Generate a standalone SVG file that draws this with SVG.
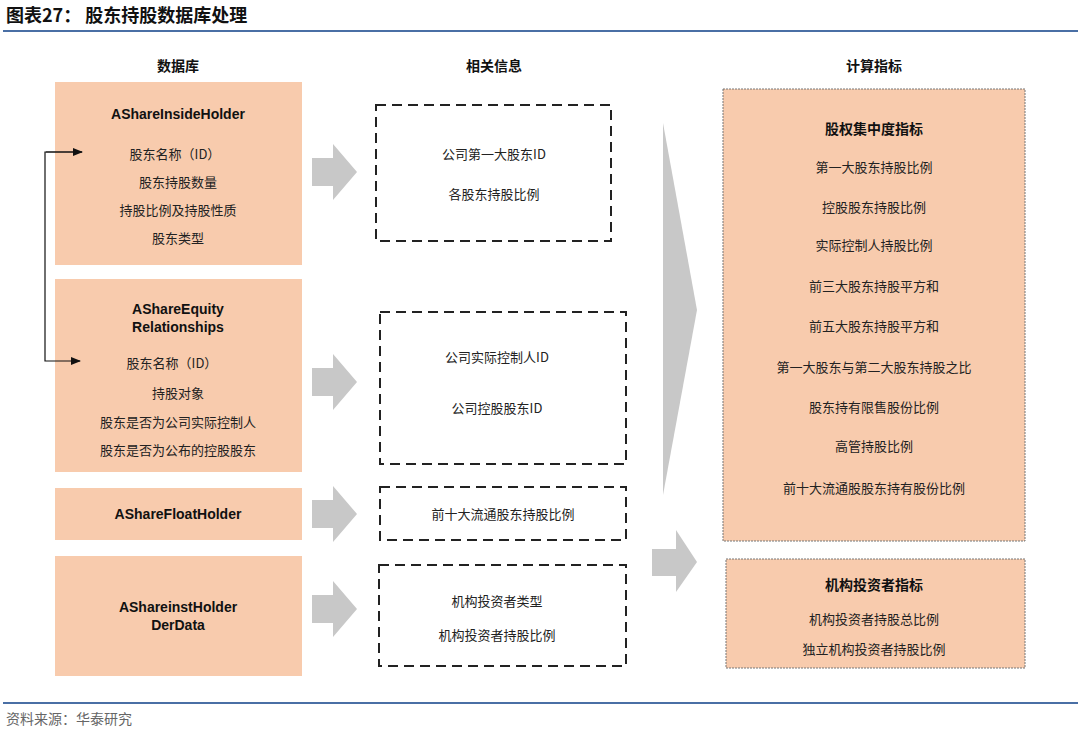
<svg xmlns="http://www.w3.org/2000/svg" width="1080" height="732" viewBox="0 0 1080 732">
<style>
.t{font-family:"Noto Sans CJK SC","Liberation Sans",sans-serif;font-size:13px;fill:#222;text-anchor:middle}
.h{font-family:"Noto Sans CJK SC",sans-serif;font-size:14px;font-weight:bold;fill:#111;text-anchor:middle}
.e{font-family:"Liberation Sans",Arial,sans-serif;font-size:14px;font-weight:bold;fill:#111;text-anchor:middle}
.db{fill:#f8cbad}
.dash{fill:none;stroke:#222;stroke-width:2;stroke-dasharray:10,6}
.ga{fill:#c8c8c8}
</style>
<defs><marker id="ar" markerWidth="10" markerHeight="8" refX="9" refY="4" orient="auto" markerUnits="userSpaceOnUse"><path d="M0,0L10,4L0,8z" fill="#111"/></marker></defs>
<rect width="1080" height="732" fill="#fff"/>
<text x="6" y="22" font-family="Noto Sans CJK SC,sans-serif" font-size="18" font-weight="bold" fill="#111">图表27：  股东持股数据库处理</text>
<line x1="3" y1="31" x2="1078" y2="31" stroke="#4a6fa5" stroke-width="2"/>
<text class="h" x="178" y="71">数据库</text>
<text class="h" x="494" y="71">相关信息</text>
<text class="h" x="874" y="71">计算指标</text>
<g id="db1"><rect class="db" x="55" y="82" width="247" height="183"/><text class="e" x="178" y="119">AShareInsideHolder</text>
<text class="t" x="175" y="159">股东名称（ID）</text><text class="t" x="178" y="187">股东持股数量</text><text class="t" x="178" y="215">持股比例及持股性质</text><text class="t" x="178" y="243">股东类型</text></g>
<g id="db2"><rect class="db" x="55" y="279" width="247" height="193"/><text class="e" x="178" y="314">AShareEquity</text><text class="e" x="178" y="332">Relationships</text>
<text class="t" x="172" y="368">股东名称（ID）</text><text class="t" x="178" y="398">持股对象</text><text class="t" x="178" y="427">股东是否为公司实际控制人</text><text class="t" x="178" y="455">股东是否为公布的控股股东</text></g>
<g id="db3"><rect class="db" x="55" y="488" width="247" height="52"/><text class="e" x="178" y="519">AShareFloatHolder</text></g>
<g id="db4"><rect class="db" x="55" y="556" width="247" height="120"/><text class="e" x="178" y="612">AShareinstHolder</text><text class="e" x="178" y="630">DerData</text></g>
<g id="r1"><rect class="dash" x="376" y="105" width="235" height="136"/><text class="t" x="494" y="159">公司第一大股东ID</text><text class="t" x="494" y="199">各股东持股比例</text></g>
<g id="r2"><rect class="dash" x="380" y="312" width="246" height="152"/><text class="t" x="497" y="362">公司实际控制人ID</text><text class="t" x="497" y="413">公司控股股东ID</text></g>
<g id="r3"><rect class="dash" x="380" y="487" width="246" height="53"/><text class="t" x="503" y="519">前十大流通股东持股比例</text></g>
<g id="r4"><rect class="dash" x="379" y="565" width="247" height="101"/><text class="t" x="497" y="606">机构投资者类型</text><text class="t" x="497" y="640">机构投资者持股比例</text></g>
<g id="c1"><rect class="db" x="723" y="89" width="302" height="452" stroke="#777" stroke-dasharray="2,1"/>
<text class="h" x="874" y="134">股权集中度指标</text>
<text class="t" x="874" y="172">第一大股东持股比例</text><text class="t" x="874" y="212">控股股东持股比例</text><text class="t" x="874" y="250">实际控制人持股比例</text><text class="t" x="874" y="291">前三大股东持股平方和</text><text class="t" x="874" y="331">前五大股东持股平方和</text><text class="t" x="874" y="372">第一大股东与第二大股东持股之比</text><text class="t" x="874" y="412">股东持有限售股份比例</text><text class="t" x="874" y="451">高管持股比例</text><text class="t" x="874" y="493">前十大流通股股东持有股份比例</text></g>
<g id="c2"><rect class="db" x="726" y="559" width="299" height="109" stroke="#777" stroke-dasharray="2,1"/>
<text class="h" x="874" y="590">机构投资者指标</text><text class="t" x="874" y="624">机构投资者持股总比例</text><text class="t" x="874" y="654">独立机构投资者持股比例</text></g>
<g id="connectors">
<path class="ga" d="M312,158h21v-14l24,28l-24,28v-14h-21z"/>
<path class="ga" d="M312,368h21v-14l24,28l-24,28v-14h-21z"/>
<path class="ga" d="M312,500h21v-14l24,28l-24,28v-14h-21z"/>
<path class="ga" d="M312,595h21v-14l24,28l-24,28v-14h-21z"/>
<path class="ga" d="M663,123L697,310L663,495z"/>
<path class="ga" d="M652,549h24v-19l21,32l-21,30v-16h-24z"/>
<path d="M82,152H45V361H80" fill="none" stroke="#111" stroke-width="1.2" marker-end="url(#ar)"/>
<path d="M46,152H82" stroke="#111" stroke-width="1.2" marker-end="url(#ar)"/>
</g>
<line x1="3" y1="703" x2="1078" y2="703" stroke="#4a6fa5" stroke-width="2"/>
<text x="6" y="724" font-family="Noto Sans CJK SC,sans-serif" font-size="14" fill="#666">资料来源：华泰研究</text>
</svg>
